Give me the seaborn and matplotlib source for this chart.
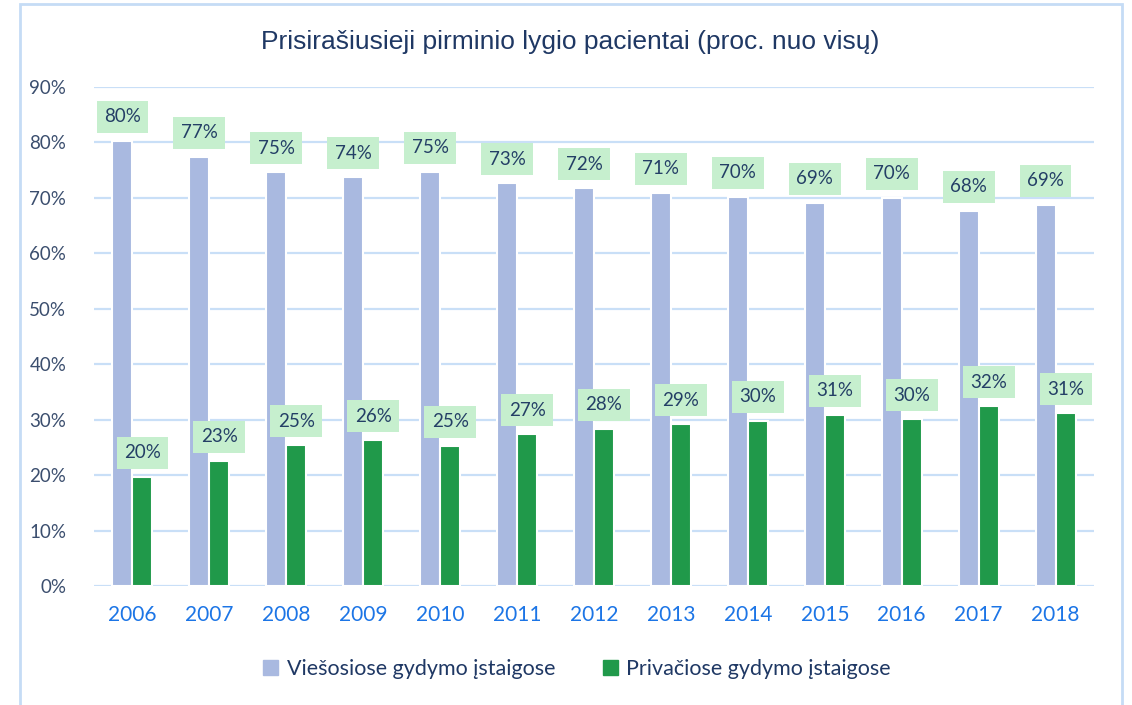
import pandas as pd
import matplotlib
matplotlib.use('Agg')
import matplotlib.pyplot as plt
import matplotlib.patches as mpatches
from matplotlib.ticker import PercentFormatter
import seaborn as sns

metai = ['2006', '2007', '2008', '2009', '2010', '2011', '2012',
         '2013', '2014', '2015', '2016', '2017', '2018']
viesosiose = [80.3, 77.4, 74.6, 73.7, 74.7, 72.6, 71.7, 70.9, 70.2, 69.1, 70.0, 67.7, 68.8]
privacios = [19.7, 22.6, 25.4, 26.3, 25.3, 27.4, 28.4, 29.2, 29.8, 30.9, 30.1, 32.4, 31.2]
serijos = ['Viešosiose gydymo įstaigose', 'Privačiose gydymo įstaigose']
spalvos = ['#A9B9E0', '#20994A']

df = pd.DataFrame({
    'metai': metai * 2,
    'reiksme': [v / 100 for v in viesosiose + privacios],
    'tipas': [serijos[0]] * len(metai) + [serijos[1]] * len(metai),
})

sns.set_style('white')
plt.rcParams['font.family'] = ['Lato', 'DejaVu Sans']

fig = plt.figure(figsize=(11.32, 7.05), dpi=100)
ax = fig.add_axes([94 / 1132, 1 - 586 / 705, 1000 / 1132, 499 / 705])

sns.barplot(data=df, x='metai', y='reiksme', hue='tipas', palette=spalvos,
            saturation=1, width=0.52, edgecolor='white', linewidth=1.5,
            ax=ax, zorder=3)

ax.set_ylim(0, 0.9)
ax.set_xlim(-0.5, len(metai) - 0.5)
ax.set_yticks([i / 10 for i in range(10)])
ax.yaxis.set_major_formatter(PercentFormatter(1.0, decimals=0))
ax.grid(axis='y', color='#C9DFF7', linewidth=1.6, zorder=0)
ax.set_axisbelow(True)
for s in ax.spines.values():
    s.set_visible(False)
ax.set_xlabel('')
ax.set_ylabel('')
ax.tick_params(axis='y', colors='#3B4E6E', labelsize=13.5, length=0, pad=20)
ax.tick_params(axis='x', colors='#1C75E6', labelsize=15, length=0, pad=14)

# reiksmiu etiketes
for cont in ax.containers:
    for bar in cont:
        h = bar.get_height()
        ax.annotate(f'{h * 100:.0f}%', (bar.get_x() + bar.get_width() / 2, h),
                    xytext=(0, 24), textcoords='offset pixels',
                    ha='center', va='center', fontsize=13.5, color='#243F66',
                    bbox=dict(boxstyle='square,pad=0.4', fc='#C6EFCE', ec='none'),
                    zorder=5)

ax.legend_.remove()
handles = [mpatches.Patch(color=c, label=l) for c, l in zip(spalvos, serijos)]
fig.legend(handles=handles, loc='center', bbox_to_anchor=(577 / 1132, 1 - 669 / 705),
           ncol=2, frameon=False, fontsize=15.5, handlelength=0.7, handleheight=0.7,
           handletextpad=0.4, columnspacing=2.2, labelcolor='#1F3864')

fig.text(570 / 1132, 1 - 42 / 705, 'Prisirašiusieji pirminio lygio pacientai (proc. nuo visų)',
         ha='center', va='center', fontsize=19, color='#1F3864',
         family=['Liberation Sans', 'DejaVu Sans'])

fig.patches.append(mpatches.Rectangle((20 / 1132, -0.05), 1102 / 1132, 1.05 - 4 / 705,
                                      transform=fig.transFigure, fill=False,
                                      ec='#C5DCF5', lw=2))

fig.savefig('out.png', dpi=100)
